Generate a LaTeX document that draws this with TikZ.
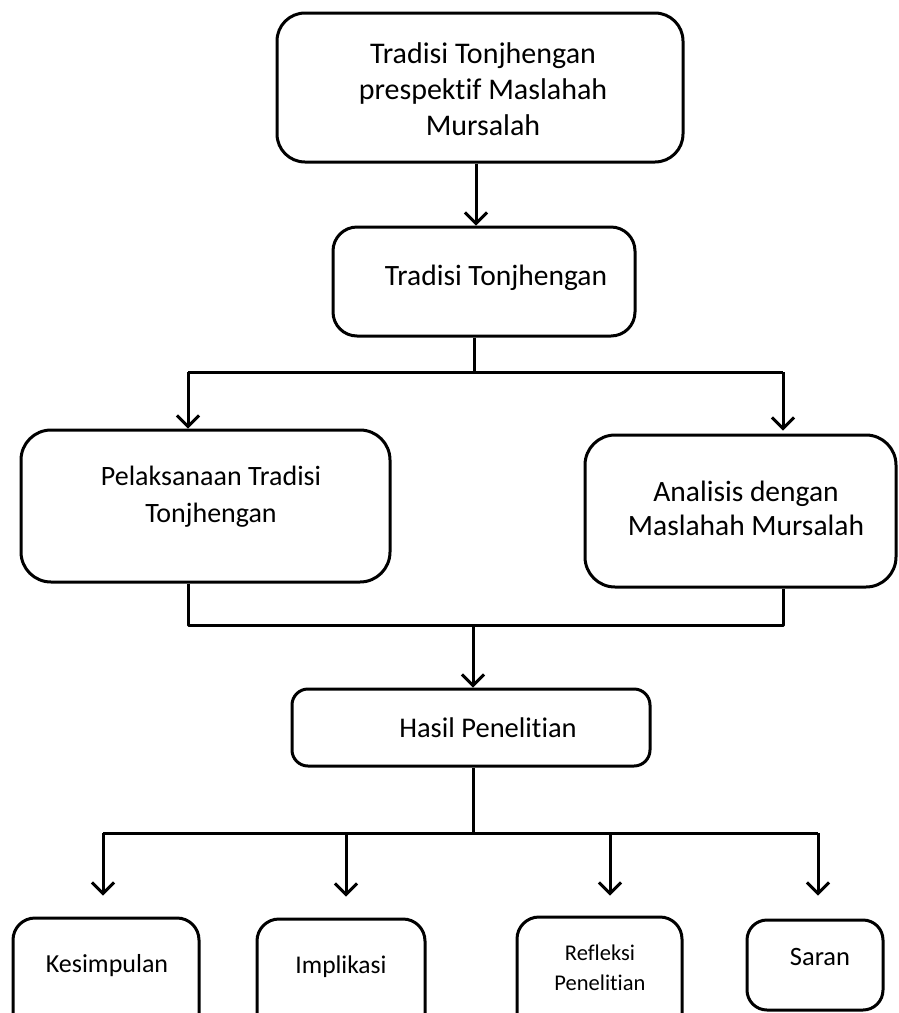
\documentclass[tikz,border=0pt]{standalone}
\usepackage{fontspec}
\setmainfont{Carlito}[Ligatures={NoCommon}]
\usetikzlibrary{arrows.meta}
\begin{document}
\begin{tikzpicture}[x=1pt,y=-1pt,
  box/.style={draw=black, line width=3pt, rounded corners=#1, inner sep=0pt},
  box/.default=26pt,
  txt/.style={align=center, inner sep=0pt, font=\fontsize{28}{37}\selectfont},
  ln/.style={line width=3pt},
  arr/.style={line width=3pt, -{Straight Barb[length=11pt,width=22pt,line width=3pt]}}]
\clip (0,0) rectangle (898,1013);
\useasboundingbox (0,0) rectangle (898,1013);
\fill[white] (0,0) rectangle (898,1013);
% boxes
\node[box=28pt, minimum width=406pt, minimum height=149pt] (b1) at (480,87.5) {};
\node[box=24pt, minimum width=302pt, minimum height=109pt] (b2) at (484,281.5) {};
\node[box=30pt, minimum width=369pt, minimum height=152pt] (b3) at (205.5,506) {};
\node[box=30pt, minimum width=311pt, minimum height=152pt] (b4) at (740.5,511) {};
\node[box=16pt, minimum width=358pt, minimum height=77pt] (b5) at (471,727.5) {};
\node[box=22pt, minimum width=186pt, minimum height=122pt] (b6) at (106,979) {};
\node[box=22pt, minimum width=168pt, minimum height=122pt] (b7) at (341,980) {};
\node[box=22pt, minimum width=165pt, minimum height=124pt] (b8) at (599.5,979) {};
\node[box=20pt, minimum width=136pt, minimum height=90pt] (b9) at (815,965) {};
% texts
\node[txt, font=\fontsize{30}{36}\selectfont] (t1) at (483,89) {Tradisi Tonjhengan\\prespektif Maslahah\\Mursalah};
\node[txt, font=\fontsize{29.5}{36}\selectfont] (t2) at (496,278) {Tradisi Tonjhengan};
\node[txt] (t3) at (211,496.5) {Pelaksanaan Tradisi\\Tonjhengan};
\node[txt, font=\fontsize{29.5}{34}\selectfont] (t4) at (746,508) {Analisis dengan\\Maslahah Mursalah};
\node[txt, font=\fontsize{28.5}{33}\selectfont] (t5) at (488,728) {Hasil Penelitian};
\node[txt, font=\fontsize{26}{30}\selectfont] (t6) at (107,966) {Kesimpulan};
\node[txt, font=\fontsize{25.5}{30}\selectfont] (t7) at (341,967) {Implikasi};
\node[txt, font=\fontsize{22.5}{30}\selectfont] (t8) at (600,968) {Refleksi\\Penelitian};
\node[txt, font=\fontsize{26.5}{30}\selectfont] (t9) at (820,957) {Saran};
% junction coordinates
\coordinate (j0) at (474,372);
\coordinate (jl) at (188,372);
\coordinate (jr) at (783,372);
\coordinate (kl) at (188,625);
\coordinate (kr) at (783,625);
\coordinate (k0) at (473,625);
\coordinate (m0) at (473,833);
\coordinate (m1) at (103,833);
\coordinate (m2) at (346,833);
\coordinate (m3) at (610,833);
\coordinate (m4) at (818,833);
% connectors
\draw[arr] (b1.south -| 476,0) -- (b2.north -| 476,0);
\draw[ln] (b2.south -| j0) -- (j0);
\draw[ln] (jl) -- (jr);
\draw[arr] (jl) -- (jl |- b3.north);
\draw[arr, shorten >=3pt] (jr) -- (jr |- b4.north);
\draw[ln, line join=round] (b3.south -| kl) -- (kl) -- (kr) -- (b4.south -| kr);
\draw[arr] (k0) -- (k0 |- b5.north);
\draw[ln] (b5.south -| m0) -- (m0);
\draw[ln] (m1) -- (m4);
\draw[arr, shorten >=21pt] (m1) -- (m1 |- b6.north);
\draw[arr, shorten >=21pt] (m2) -- (m2 |- b7.north);
\draw[arr, shorten >=20pt] (m3) -- (m3 |- b8.north);
\draw[arr, shorten >=23pt] (m4) -- (m4 |- b9.north);
\end{tikzpicture}
\end{document}
